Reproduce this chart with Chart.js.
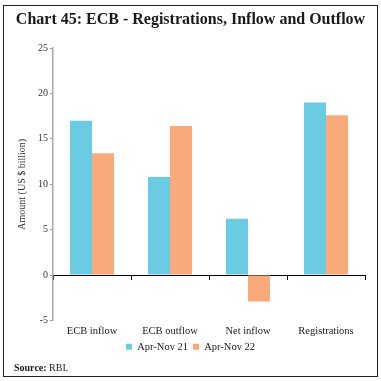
<!DOCTYPE html>
<html>
<head>
<meta charset="utf-8">
<script src="https://cdn.jsdelivr.net/npm/chart.js@4"></script>
<style>
html,body{margin:0;padding:0;background:#fff;}
#wrap{width:381px;height:381px;position:relative;}
</style>
</head>
<body>
<div id="wrap"><canvas id="c" width="381" height="381"></canvas></div>
<script>
const categories = ["ECB inflow", "ECB outflow", "Net inflow", "Registrations"];
const seriesNames = ["Apr-Nov 21", "Apr-Nov 22"];
const apr21 = [17.0, 10.8, 6.2, 19.0];
const apr22 = [13.4, 16.4, -2.9, 17.6];
const yTicks = [-5, 0, 5, 10, 15, 20, 25];

const SERIF = "'Liberation Serif', 'Times New Roman', serif";

const framePlugin = {
  id: 'frame',
  afterDraw(chart) {
    const ctx = chart.ctx;
    ctx.save();
    ctx.strokeStyle = '#222';
    ctx.lineWidth = 1;
    ctx.strokeRect(3.5, 5.5, 374, 371);
    ctx.textBaseline = 'middle';
    ctx.fillStyle = '#1a1a1a';
    ctx.font = "bold 10px " + SERIF;
    ctx.fillText('Source:', 14, 368);
    const w = ctx.measureText('Source: ').width;
    ctx.font = "10px " + SERIF;
    ctx.fillText('RBI.', 14 + w, 368);
    ctx.restore();
  }
};

new Chart(document.getElementById('c'), {
  type: 'bar',
  data: {
    labels: categories,
    datasets: [
      { label: seriesNames[0], data: apr21, backgroundColor: '#6BCBE3', xAxisID: 'x', yAxisID: 'y' },
      { label: seriesNames[1], data: apr22, backgroundColor: '#F9AA7A', xAxisID: 'x', yAxisID: 'y' }
    ]
  },
  options: {
    responsive: false,
    animation: false,
    devicePixelRatio: 1,
    layout: { padding: { left: 3, right: 3, top: 0, bottom: 19 } },
    datasets: { bar: { categoryPercentage: 0.564, barPercentage: 1.0 } },
    plugins: {
      title: {
        display: true,
        text: 'Chart 45: ECB - Registrations, Inflow and Outflow',
        color: '#1a1a1a',
        font: { family: SERIF, size: 16, weight: 'bold', lineHeight: 1.2 },
        padding: { top: 10.4, bottom: 18.4 }
      },
      legend: {
        display: true,
        position: 'bottom',
        labels: {
          boxWidth: 6, boxHeight: 6, padding: 5,
          color: '#1a1a1a',
          font: { family: SERIF, size: 10.5, lineHeight: 1.2 }
        }
      },
      tooltip: { enabled: false }
    },
    scales: {
      x: {
        type: 'category',
        position: 'bottom',
        grid: { display: false, drawTicks: false },
        border: { display: false },
        ticks: { color: '#1a1a1a', padding: 4, maxRotation: 0, autoSkip: false, font: { family: SERIF, size: 10.5 } },
        afterFit(s) { s.height = 16; }
      },
      x0: {
        type: 'category',
        labels: categories,
        position: { y: 0 },
        offset: true,
        grid: { display: true, drawOnChartArea: false, drawTicks: true, tickLength: 4, color: '#000', offset: true },
        border: { display: true, color: '#000', width: 1 },
        ticks: { display: false }
      },
      y: {
        type: 'linear',
        position: 'left',
        min: -5, max: 25,
        afterBuildTicks(s) { s.ticks = yTicks.map(v => ({ value: v })); },
        grid: { display: true, drawOnChartArea: false, tickLength: 3, color: '#999' },
        border: { display: true, color: '#aaa', width: 1.5 },
        ticks: { color: '#333', padding: 2, font: { family: SERIF, size: 10 } },
        title: {
          display: true, text: 'Amount (US $ billion)', color: '#333',
          font: { family: SERIF, size: 10 }, padding: { top: 13, bottom: 0 }
        },
        afterFit(s) { s.width = 50; }
      },
      yR: {
        type: 'linear',
        position: 'right',
        min: -5, max: 25,
        grid: { display: false },
        border: { display: false },
        ticks: { display: false },
        afterFit(s) { s.width = 13; }
      }
    }
  },
  plugins: [framePlugin]
});
</script>
</body>
</html>
